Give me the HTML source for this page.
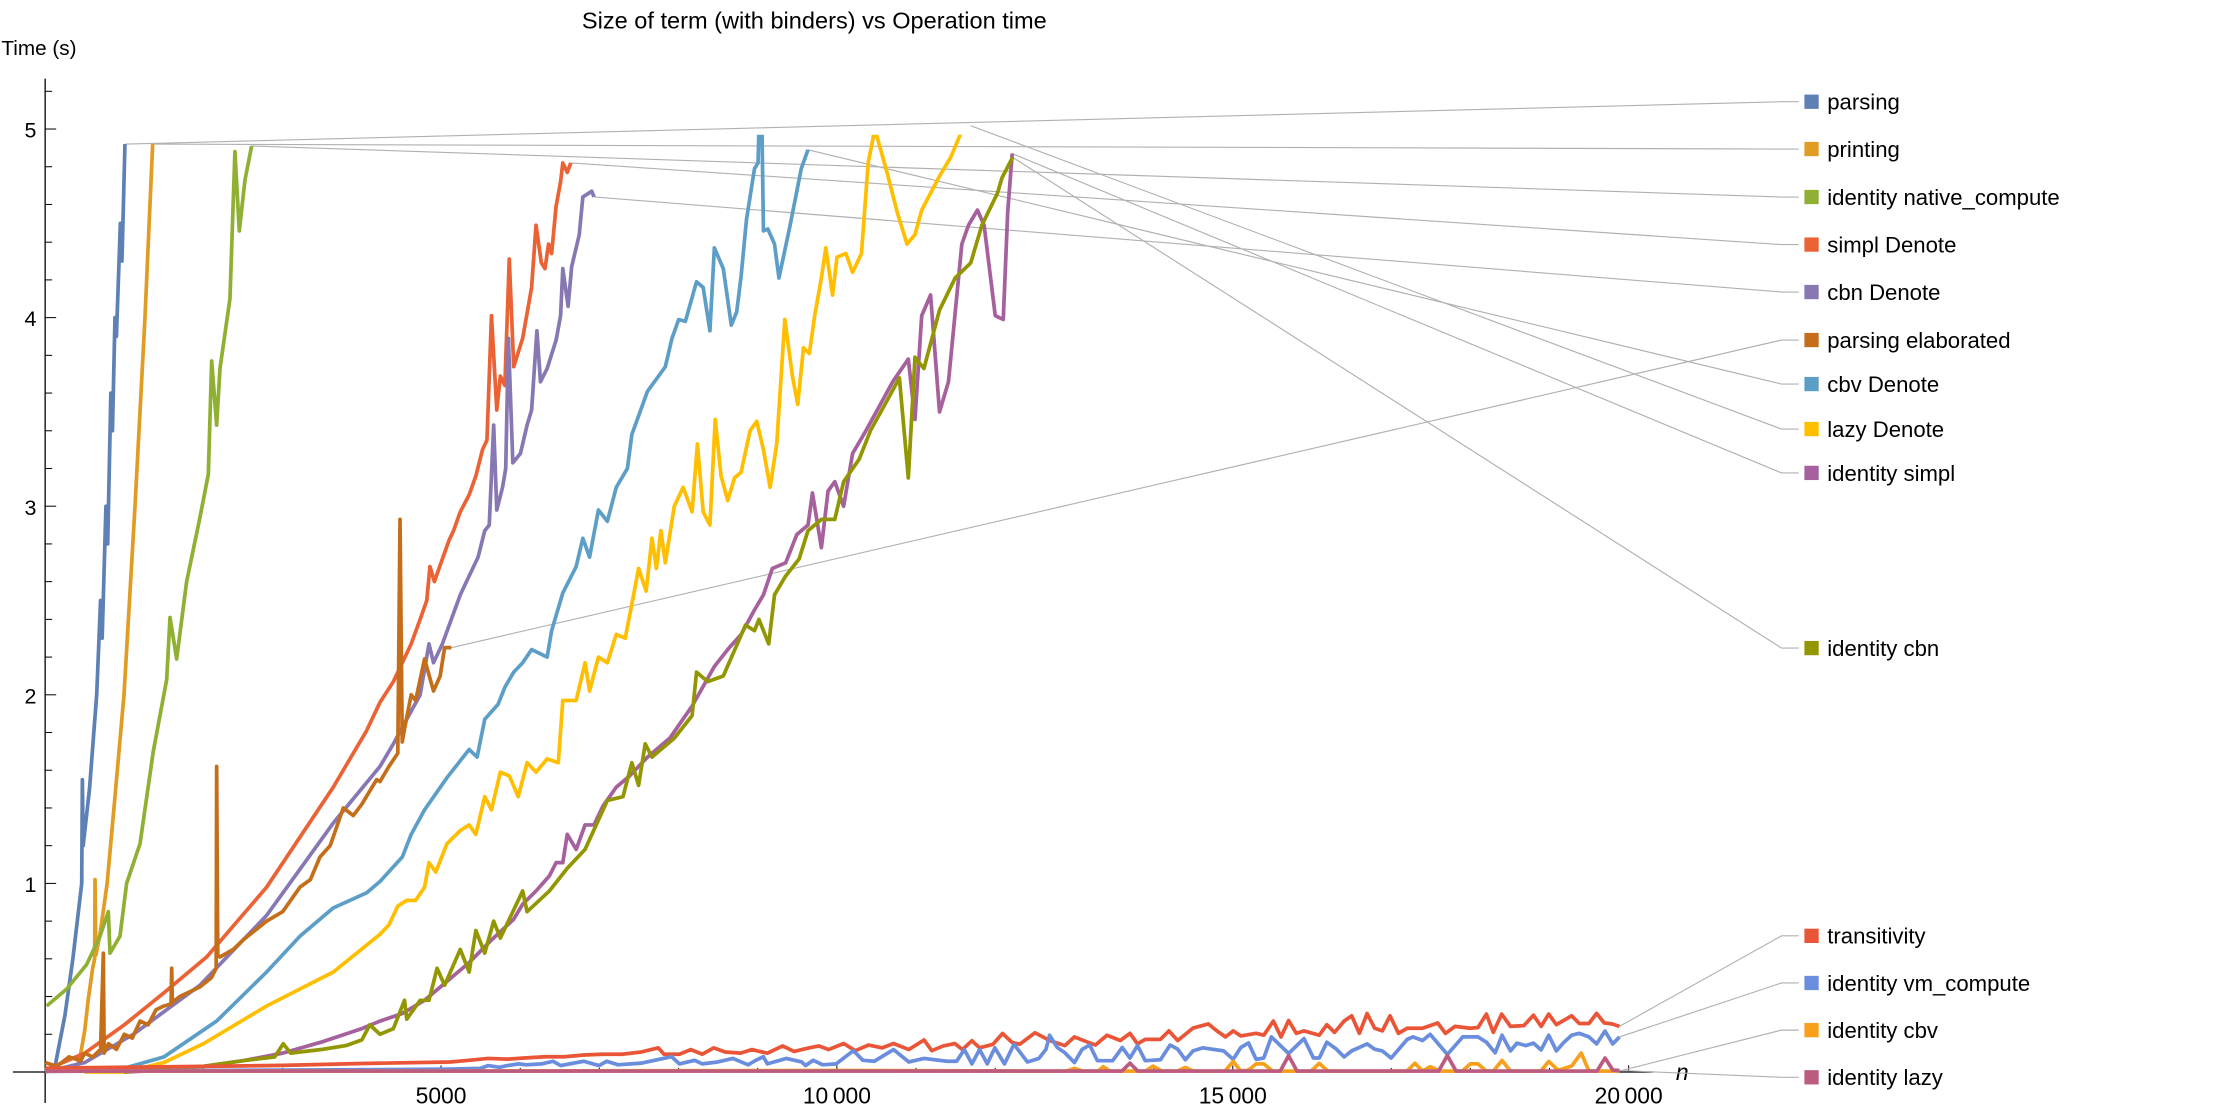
<!DOCTYPE html>
<html><head><meta charset="utf-8"><style>
html,body{margin:0;padding:0;background:#fff;}
svg{display:block;font-family:"Liberation Sans",sans-serif;}
</style></head><body>
<svg id="chart" width="2223" height="1112" viewBox="0 0 1556 778.3" preserveAspectRatio="none" xmlns="http://www.w3.org/2000/svg">
<defs><clipPath id="plotclip"><rect x="0" y="94.3" width="1200" height="700"/></clipPath></defs>
<text x="570" y="20" font-size="16.5" text-anchor="middle" fill="#000">Size of term (with binders) vs Operation time</text>
<text x="1" y="38.5" font-size="14.5" fill="#000">Time (s)</text>
<text x="1173" y="756" font-size="16" font-style="italic" fill="#000">n</text>
<g id="axes"></g>
<g id="leaders"></g>
<g id="series" clip-path="url(#plotclip)"></g>
<g id="legend"></g>
</svg>
<script>
const xTicksMajor = [5000, 10000, 15000, 20000];
const xTickLabels = ["5000", "10\u2009000", "15\u2009000", "20\u2009000"];
const yTicksMajor = [1, 2, 3, 4, 5];
const yTickLabels = ["1", "2", "3", "4", "5"];

const seriesNames = ["parsing","printing","identity native_compute","simpl Denote","cbn Denote","parsing elaborated","cbv Denote","lazy Denote","identity simpl","identity cbn","transitivity","identity vm_compute","identity cbv","identity lazy"];
const seriesColors = ["#5e81b5","#e19c24","#8fb032","#eb6235","#8778b3","#c56e1a","#5d9ec7","#ffbf00","#a5609d","#929600","#e95536","#6a8ddd","#f9a01b","#bc5b80"];
const legendY = [71.2,104.3,137.9,171.2,204.4,238,268.8,300.3,331,453.6,655,688,721,754];

const nParsing = [0,120,250,350,420,462,470,480,560,651,700,720,768,790,830,850,882,900,950,970,1008];
const tParsing = [0,0.02,0.3,0.6,0.85,1.0,1.55,1.2,1.5,2.0,2.5,2.3,3.0,2.8,3.6,3.4,4.0,3.9,4.5,4.3,4.92];
const nPrinting = [0,200,398,450,500,543,600,625,630,640,660,700,783,880,996,1135,1261,1358];
const tPrinting = [0.01,0.01,0.02,0.1,0.22,0.38,0.55,0.6,1.02,0.62,0.66,0.75,1.0,1.45,2.0,3.0,4.0,4.92];
const nNative = [19,272,524,693,798,819,945,1029,1198,1366,1535,1577,1661,1787,1955,2061,2103,2166,2208,2334,2397,2452,2524,2608];
const tNative = [0.35,0.44,0.57,0.72,0.85,0.63,0.72,1.0,1.21,1.70,2.08,2.41,2.19,2.60,2.94,3.17,3.77,3.43,3.73,4.10,4.88,4.46,4.73,4.91];
const nSimplDen = [0,500,1000,1500,2040,2797,3639,4060,4229,4398,4511,4623,4736,4820,4860,4916,5017,5102,5158,5243,5355,5440,5524,5580,5637,5704,5749,5806,5862,5918,6031,6144,6200,6267,6313,6358,6397,6453,6510,6538,6594,6639];
const tSimplDen = [0.01,0.1,0.25,0.42,0.61,0.98,1.51,1.81,1.96,2.07,2.17,2.27,2.40,2.50,2.68,2.60,2.72,2.82,2.87,2.97,3.06,3.16,3.30,3.35,4.01,3.51,3.69,3.64,4.31,3.74,3.89,4.16,4.49,4.29,4.26,4.39,4.34,4.59,4.72,4.82,4.77,4.82];
const nCbnDen = [0,500,1114,1955,2797,3639,4229,4398,4567,4736,4848,4905,5017,5130,5243,5355,5468,5552,5609,5665,5704,5777,5817,5851,5907,6003,6087,6144,6211,6256,6340,6453,6510,6538,6605,6650,6746,6791,6904,6932];
const tCbnDen = [0,0.05,0.2,0.46,0.83,1.32,1.62,1.74,1.87,2.00,2.27,2.17,2.27,2.40,2.53,2.63,2.73,2.87,2.90,3.43,2.98,3.10,3.20,3.89,3.23,3.28,3.43,3.51,3.93,3.66,3.73,3.88,4.01,4.26,4.06,4.27,4.44,4.64,4.67,4.64];
const nParsElab = [0,150,300,450,500,600,700,735,745,800,900,1000,1100,1200,1300,1400,1500,1590,1598,1606,1700,1800,1950,2100,2160,2166,2180,2208,2376,2500,2797,3000,3218,3350,3471,3600,3765,3892,4000,4186,4229,4342,4454,4482,4510,4539,4623,4679,4792,4905,4989,5045,5130];
const tParsElab = [0.05,0.03,0.08,0.06,0.1,0.08,0.12,0.63,0.1,0.15,0.12,0.2,0.18,0.27,0.25,0.33,0.35,0.36,0.55,0.37,0.4,0.42,0.45,0.5,0.55,1.62,0.62,0.61,0.65,0.7,0.8,0.85,0.98,1.02,1.14,1.2,1.4,1.36,1.42,1.55,1.54,1.62,1.69,2.93,1.75,1.82,2.0,1.97,2.19,2.02,2.10,2.25,2.25];
const nCbvDen = [500,1000,1500,2166,2797,3218,3639,4060,4229,4511,4623,4792,5074,5355,5456,5552,5721,5806,5918,6031,6144,6340,6397,6538,6707,6791,6876,6988,7101,7213,7354,7410,7608,7748,7833,7917,8002,8086,8227,8311,8396,8452,8565,8666,8734,8790,8858,8959,9004,9040,9072,9128,9212,9268,9409,9550,9635];
const tCbvDen = [0,0.02,0.08,0.27,0.53,0.72,0.87,0.95,1.01,1.14,1.26,1.39,1.56,1.71,1.67,1.87,1.95,2.04,2.12,2.17,2.24,2.20,2.34,2.54,2.68,2.83,2.73,2.98,2.92,3.10,3.20,3.38,3.61,3.69,3.74,3.89,3.99,3.98,4.19,4.16,3.93,4.37,4.26,3.96,4.03,4.22,4.52,4.79,4.82,5.4,4.46,4.47,4.39,4.21,4.49,4.79,4.89];
const nLazyDen = [500,1000,1500,2000,2797,3639,4229,4342,4454,4567,4679,4792,4848,4933,5074,5243,5355,5440,5552,5637,5749,5862,5975,6087,6200,6340,6481,6538,6707,6819,6876,6988,7101,7213,7326,7410,7495,7591,7664,7720,7777,7833,7946,8058,8171,8238,8311,8396,8463,8537,8621,8706,8790,8903,8987,9072,9156,9240,9342,9438,9505,9578,9652,9719,9804,9860,9945,10001,10113,10198,10310,10395,10479,10620,10761,10885,10986,11071,11183,11296,11437,11578,11690];
const tLazyDen = [0,0,0.05,0.15,0.35,0.53,0.73,0.78,0.88,0.91,0.91,0.98,1.11,1.06,1.21,1.28,1.31,1.26,1.46,1.39,1.59,1.57,1.46,1.64,1.59,1.66,1.64,1.97,1.97,2.17,2.02,2.20,2.17,2.32,2.30,2.48,2.67,2.55,2.83,2.67,2.87,2.70,3.00,3.10,2.97,3.33,2.97,2.90,3.46,3.16,3.03,3.15,3.18,3.40,3.45,3.30,3.10,3.33,3.99,3.69,3.54,3.84,3.81,4.01,4.21,4.37,4.12,4.32,4.34,4.24,4.34,4.82,5.0,4.79,4.56,4.39,4.44,4.57,4.66,4.75,4.85,4.99,5.02];
const nIdSimpl = [1000,1500,2000,2500,3000,3500,4000,4229,4511,4792,5074,5355,5637,5918,6031,6200,6369,6453,6538,6594,6707,6819,6932,7045,7213,7382,7608,7889,8171,8452,8621,8790,8959,9072,9184,9353,9494,9635,9691,9804,9888,9973,10085,10198,10366,10536,10705,10902,10986,11071,11183,11296,11409,11578,11662,11775,11859,12000,12101,12157,12214];
const tIdSimpl = [0,0.01,0.03,0.06,0.1,0.16,0.23,0.27,0.31,0.38,0.48,0.58,0.70,0.81,0.89,0.96,1.04,1.11,1.11,1.26,1.18,1.31,1.31,1.41,1.51,1.57,1.67,1.77,1.94,2.15,2.24,2.32,2.45,2.53,2.67,2.70,2.85,2.90,3.07,2.78,3.08,3.13,3.00,3.28,3.40,3.53,3.66,3.78,3.46,4.01,4.12,3.50,3.66,4.39,4.49,4.57,4.49,4.01,3.99,4.56,4.87];
const nIdCbn = [1000,1500,2000,2500,2900,3007,3100,3500,3800,4000,4100,4229,4398,4539,4567,4736,4848,4950,5045,5243,5355,5440,5552,5665,5749,6031,6087,6369,6594,6819,7101,7298,7410,7495,7579,7664,7946,8171,8227,8368,8565,8846,8959,9015,9139,9212,9353,9522,9635,9804,9973,10085,10282,10423,10620,10789,10902,10986,11099,11296,11493,11690,11831,12028,12084,12219];
const tIdCbn = [0,0.02,0.03,0.06,0.08,0.15,0.1,0.12,0.14,0.17,0.25,0.2,0.23,0.38,0.28,0.38,0.38,0.55,0.46,0.65,0.53,0.75,0.63,0.80,0.71,0.96,0.85,0.96,1.08,1.18,1.44,1.46,1.64,1.52,1.74,1.67,1.77,1.89,2.12,2.07,2.10,2.37,2.34,2.40,2.27,2.53,2.63,2.72,2.87,2.93,2.93,3.13,3.25,3.40,3.55,3.68,3.15,3.79,3.73,4.04,4.21,4.29,4.49,4.66,4.74,4.85];
const nTrans = [0,1000,2000,3000,4000,5111,5353,5594,5836,6077,6319,6560,6802,7043,7285,7527,7744,7816,8010,8155,8299,8444,8589,8783,8928,9024,9121,9314,9459,9652,9773,9894,10087,10232,10401,10570,10715,10908,11101,11198,11343,11488,11585,11705,11802,11971,12092,12212,12309,12502,12686,12879,13000,13169,13266,13411,13580,13701,13797,13894,14087,14193,14304,14498,14691,14812,14908,15005,15101,15295,15391,15512,15609,15705,15802,15899,16092,16188,16285,16406,16502,16599,16696,16792,16889,16986,17092,17203,17396,17589,17686,17807,18000,18097,18203,18290,18396,18507,18676,18797,18894,18990,19087,19280,19377,19498,19595,19691,19788,19884];
const tTrans = [0.02,0.025,0.03,0.035,0.045,0.053,0.062,0.072,0.068,0.075,0.081,0.081,0.09,0.094,0.094,0.106,0.128,0.094,0.094,0.119,0.094,0.128,0.106,0.1,0.119,0.109,0.1,0.138,0.109,0.128,0.138,0.119,0.151,0.113,0.143,0.128,0.151,0.119,0.17,0.113,0.138,0.151,0.119,0.166,0.128,0.147,0.204,0.157,0.147,0.208,0.167,0.14,0.186,0.158,0.143,0.195,0.167,0.205,0.149,0.173,0.173,0.218,0.167,0.233,0.255,0.214,0.186,0.218,0.191,0.205,0.195,0.27,0.186,0.273,0.205,0.218,0.195,0.251,0.21,0.27,0.298,0.205,0.31,0.232,0.218,0.298,0.205,0.232,0.232,0.26,0.205,0.242,0.232,0.236,0.307,0.21,0.307,0.242,0.246,0.301,0.242,0.307,0.251,0.298,0.257,0.257,0.311,0.26,0.255,0.242];
const nVm = [0,1000,2000,3000,4000,5111,5497,5594,5739,5836,5981,6077,6270,6415,6512,6802,6995,7092,7237,7527,7913,8010,8203,8299,8493,8686,8879,8976,9072,9121,9362,9556,9604,9700,9821,9990,10208,10328,10473,10715,10908,11101,11391,11512,11609,11705,11802,11899,11995,12116,12236,12406,12551,12640,12686,12783,12879,13000,13097,13193,13290,13483,13604,13701,13797,13894,14087,14208,14304,14401,14498,14619,14884,15005,15101,15198,15295,15391,15488,15705,15899,16019,16092,16188,16309,16406,16502,16696,16792,16889,17000,17203,17275,17396,17493,17710,17904,18097,18203,18314,18401,18507,18590,18700,18797,18894,18990,19087,19183,19280,19377,19498,19595,19701,19798,19884];
const tVm = [0.003,0.005,0.008,0.01,0.012,0.015,0.019,0.034,0.025,0.034,0.043,0.038,0.043,0.057,0.034,0.057,0.034,0.057,0.038,0.047,0.081,0.043,0.062,0.043,0.053,0.072,0.038,0.062,0.081,0.043,0.072,0.053,0.034,0.062,0.038,0.043,0.113,0.062,0.057,0.119,0.053,0.072,0.057,0.057,0.119,0.043,0.119,0.043,0.128,0.043,0.147,0.053,0.072,0.12,0.195,0.13,0.102,0.05,0.12,0.143,0.06,0.06,0.13,0.074,0.14,0.06,0.065,0.143,0.121,0.065,0.112,0.128,0.112,0.067,0.13,0.154,0.067,0.074,0.186,0.098,0.177,0.074,0.074,0.158,0.121,0.08,0.112,0.149,0.121,0.112,0.074,0.173,0.186,0.167,0.2,0.093,0.186,0.186,0.158,0.102,0.195,0.112,0.153,0.14,0.153,0.117,0.195,0.112,0.158,0.195,0.205,0.186,0.149,0.217,0.149,0.186];
const nIdCbv = [0,5000,10000,12600,12900,13000,13100,13300,13362,13450,13900,13991,14100,14300,14401,14500,14900,15005,15100,15200,15295,15391,15500,15990,16092,16200,17200,17300,17396,17493,17614,17900,18000,18097,18200,18290,18401,18507,18890,18990,19111,19280,19401,19498,19884];
const tIdCbv = [0.005,0.005,0.008,0.005,0.005,0.019,0.005,0.005,0.028,0.005,0.005,0.031,0.005,0.005,0.024,0.005,0.005,0.056,0.005,0.01,0.043,0.043,0.005,0.005,0.046,0.005,0.005,0.046,0.005,0.028,0.005,0.005,0.043,0.043,0.005,0.005,0.061,0.005,0.005,0.056,0.009,0.032,0.1,0.005,0.005];
const nIdLazy = [0,13600,13701,13800,15600,15705,15810,17600,17710,17820,19600,19701,19800,19884];
const tIdLazy = [0.005,0.005,0.047,0.005,0.005,0.087,0.005,0.005,0.087,0.005,0.005,0.074,0.01,0.008];

const allN = [nParsing,nPrinting,nNative,nSimplDen,nCbnDen,nParsElab,nCbvDen,nLazyDen,nIdSimpl,nIdCbn,nTrans,nVm,nIdCbv,nIdLazy];
const allT = [tParsing,tPrinting,tNative,tSimplDen,tCbnDen,tParsElab,tCbvDen,tLazyDen,tIdSimpl,tIdCbn,tTrans,tVm,tIdCbv,tIdLazy];

const NS = "http://www.w3.org/2000/svg";
function xs(n){ return 31.6 + n * 0.05542; }
function ys(t){ return 750.3 - t * 132; }
function mk(tag, attrs, parent){ const e = document.createElementNS(NS, tag); for (const k in attrs) e.setAttribute(k, attrs[k]); parent.appendChild(e); return e; }

const axes = document.getElementById('axes');
let ax = mk('line', {x1:9, y1:ys(0), x2:1157, y2:ys(0), stroke:'#000', 'stroke-width':0.9}, axes);


let ay = mk('line', {x1:xs(0), y1:55, x2:xs(0), y2:772, stroke:'#000', 'stroke-width':0.9}, axes);


for (let n = 1000; n <= 20000; n += 1000) {
  const major = n % 5000 === 0;
  const tk = mk('line', {x1:xs(n), y1:ys(0), x2:xs(n), y2:ys(0) - (major ? 4.6 : 2.9), stroke:'#000', 'stroke-width':0.7}, axes);
  
  
}
xTicksMajor.forEach((v, i) => {
  const t = mk('text', {x:xs(v), y:ys(0) + 22, 'font-size':16, 'text-anchor':'middle', fill:'#000'}, axes);
  t.textContent = xTickLabels[i];
  
  
});
for (let k = 1; k <= 26; k++) {
  const v = k * 0.2;
  const major = k % 5 === 0;
  const tk = mk('line', {x1:xs(0), y1:ys(v), x2:xs(0) + (major ? 7.7 : 4.9), y2:ys(v), stroke:'#000', 'stroke-width':0.7}, axes);
  
  
}
yTicksMajor.forEach((v, i) => {
  const t = mk('text', {x:25.5, y:ys(v) + 6, 'font-size':15, 'text-anchor':'end', fill:'#000'}, axes);
  t.textContent = yTickLabels[i];
  
  
});

const sg = document.getElementById('series');
const lg = document.getElementById('leaders');
const leg = document.getElementById('legend');
for (let s = 0; s < allN.length; s++) {
  const ns = allN[s], ts = allT[s];
  const m = Math.min(ns.length, ts.length);
  let d = '';
  for (let i = 0; i < m; i++) d += (i ? 'L' : 'M') + xs(ns[i]).toFixed(2) + ',' + ys(ts[i]).toFixed(2);
  const p = mk('path', {d:d, fill:'none', stroke:seriesColors[s], 'stroke-width':2.6, 'stroke-linejoin':'round'}, sg);
  
  
  const ex = xs(ns[m - 1]), ey = Math.max(ys(ts[m - 1]), 88);
  const ld = mk('polyline', {points: ex + ',' + ey + ' 1247,' + legendY[s] + ' 1259,' + legendY[s], fill:'none', stroke:'#b0b0b0', 'stroke-width':0.8}, lg);
  
  
  const sw = mk('rect', {x:1263, y:legendY[s] - 5, width:10, height:10, fill:seriesColors[s]}, leg);
  
  
  const lt = mk('text', {x:1279, y:legendY[s] + 5.5, 'font-size':15.5, fill:'#000'}, leg);
  lt.textContent = seriesNames[s];
  
  
}
</script>
</body></html>
